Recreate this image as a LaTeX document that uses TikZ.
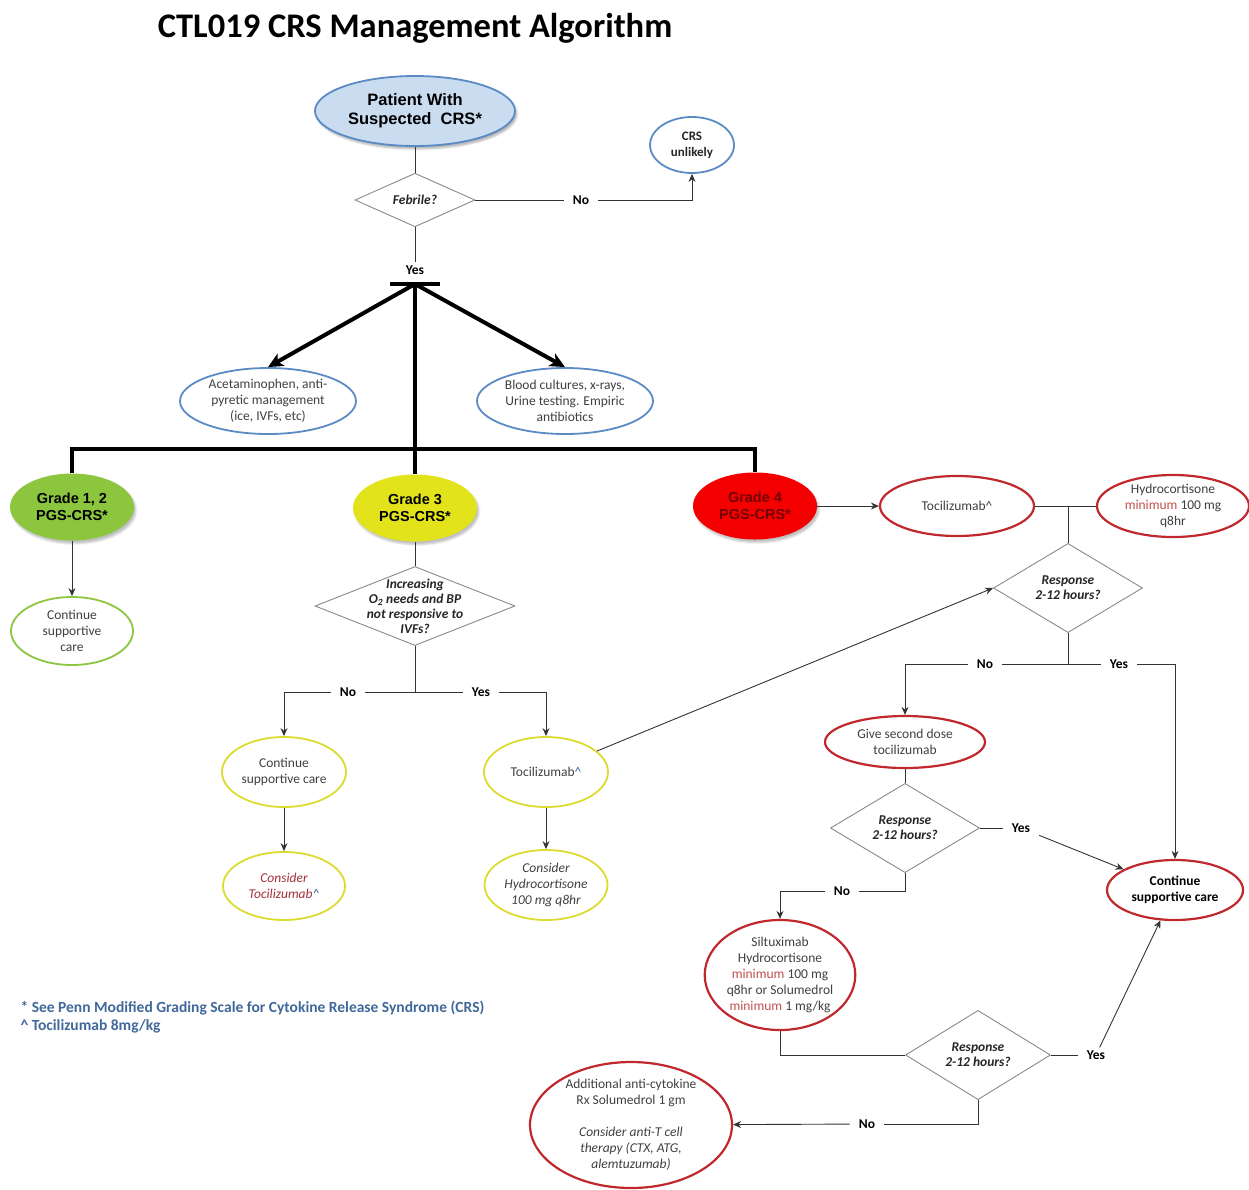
\documentclass[tikz,border=0pt]{standalone}
\usepackage{fontspec}
\setmainfont{Carlito}
\newfontfamily\arialfont{Liberation Sans}
\usetikzlibrary{shapes.geometric,arrows.meta,shadows.blur}

\definecolor{bordblue}{HTML}{5B8BC4}
\definecolor{fillblue}{HTML}{C9DCF0}
\definecolor{gradegreen}{HTML}{8CC63F}
\definecolor{gradeyellow}{HTML}{E3E31C}
\definecolor{bordyellow}{HTML}{DCDC30}
\definecolor{gradered}{HTML}{F40000}
\definecolor{bordred}{HTML}{C0282D}
\definecolor{txtgray}{HTML}{404040}
\definecolor{minred}{HTML}{C0504D}
\definecolor{tocired}{HTML}{A5303C}
\definecolor{noteblue}{HTML}{41689A}
\definecolor{linegray}{HTML}{8A8A8A}

\newcommand{\nodesize}{\fontsize{13.5}{16}\selectfont}
\newcommand{\mintxt}{\textcolor{minred}{minimum}}
\newcommand{\tcaret}{\textcolor{noteblue}{\textasciicircum}}

\begin{document}
\begin{tikzpicture}[x=1pt,y=-1pt,
	every node/.style={font=\nodesize, text=txtgray, align=center},
	oval/.style={ellipse, draw, line width=1.8pt, inner sep=0pt, fill=white},
	blueoval/.style={oval, draw=bordblue},
	greenoval/.style={oval, draw=gradegreen},
	yellowoval/.style={oval, draw=bordyellow},
	redoval/.style={oval, draw=bordred, line width=2.2pt},
	grade/.style={ellipse, inner sep=0pt, minimum width=124pt, minimum height=67pt,
		text=black, font=\arialfont\bfseries\fontsize{14.5}{17}\selectfont,
		blur shadow={shadow xshift=2pt, shadow yshift=-3pt, shadow opacity=25}},
	decision/.style={diamond, draw=linegray, line width=0.9pt, inner sep=0pt, fill=white,
		text=black!85, font=\bfseries\itshape\fontsize{13.5}{15}\selectfont},
	answer/.style={text=black, font=\bfseries\fontsize{13.5}{15}\selectfont,
		inner xsep=9pt, inner ysep=3pt},
	link/.style={draw=black!80, line width=0.9pt},
	arrow/.style={link, -{Stealth[length=8pt,width=7pt]}},
	heavy/.style={draw=black, line width=4pt},
	heavyarrow/.style={heavy, -{Stealth[length=15pt,width=14pt,inset=4pt]}},
]

% frame %{{{2

	\useasboundingbox (0,0) rectangle (1249,1189);

% title %{{{2

	\node[text=black, font=\bfseries\fontsize{34.5}{38}\selectfont] (title) at (415,28)
		{CTL019 CRS Management Algorithm};

% top of the tree %{{{2

	\node[oval, draw=bordblue, fill=fillblue, minimum width=200pt, minimum height=70pt,
		text=black, font=\arialfont\bfseries\fontsize{16.5}{19}\selectfont,
		blur shadow={shadow xshift=2pt, shadow yshift=-3pt, shadow opacity=30}]
		(patient) at (415,111) {Patient With\\Suspected\ \ CRS*};

	\node[decision, minimum width=120pt, minimum height=39pt] (febrile) at (415,200)
		{Febrile?};

	\node[blueoval, minimum width=84pt, minimum height=56pt, text=black!85,
		font=\bfseries\fontsize{13}{16}\selectfont] (unlikely) at (692,145) {CRS\\unlikely};

	% ---- answers of the first question

	\node[answer] (no1) at (581,200) {No};
	\node[answer] (yes1) at (415,270) {Yes};

	\coordinate (tbar) at (415,284);
	\coordinate (tbarL) at (390,284);
	\coordinate (tbarR) at (440,284);
	\coordinate (busR) at (755,449);

% first measures %{{{2

	\node[blueoval, minimum width=176pt, minimum height=66pt] (acet) at (268,401)
		{Acetaminophen, anti-\\pyretic management\\(ice, IVFs, etc)};
	\node[blueoval, minimum width=176pt, minimum height=66pt] (blood) at (565,401)
		{Blood cultures, x-rays,\\Urine testing. Empiric\\antibiotics};

% grades %{{{2

	\node[grade, fill=gradegreen] (grade12) at (72,507) {Grade 1, 2\\PGS-CRS*};
	\node[grade, fill=gradeyellow] (grade3) at (415,508) {Grade 3\\PGS-CRS*};
	\node[grade, fill=gradered, text=black!55!red] (grade4) at (755,506) {Grade 4\\PGS-CRS*};

% grade 1, 2 branch %{{{2

	\node[greenoval, minimum width=122pt, minimum height=68pt] (cont12) at (72,631)
		{Continue\\supportive\\care};

% grade 3 branch %{{{2

	% ---- the diamond and its text are two nodes

	\node[decision, minimum width=200pt, minimum height=79pt] (incr) at (415,606) {};
	\node[text=black!85, font=\bfseries\itshape\fontsize{13.5}{15}\selectfont]
		(incrtext) at (incr) {Increasing\\O\textsubscript{2} needs and BP\\not responsive to\\IVFs?};

	\coordinate (j3) at (415,692);
	\node[answer] (no3) at (348,692) {No};
	\node[answer] (yes3) at (481,692) {Yes};

	\node[yellowoval, minimum width=124pt, minimum height=70pt] (cont3) at (284,772)
		{Continue\\supportive care};
	\node[yellowoval, minimum width=124pt, minimum height=70pt] (toci3) at (546,772)
		{Tocilizumab\tcaret};
	\node[yellowoval, minimum width=122pt, minimum height=68pt, text=tocired,
		font=\nodesize\itshape] (ctoci) at (284,886) {Consider\\Tocilizumab\tcaret};
	\node[yellowoval, minimum width=123pt, minimum height=70pt,
		font=\nodesize\itshape] (chydro) at (546,885)
		{Consider\\Hydrocortisone\\100 mg q8hr};

% grade 4 branch %{{{2

	\node[redoval, minimum width=154pt, minimum height=60pt] (toci4) at (957,506)
		{Tocilizumab\textasciicircum};
	\node[redoval, minimum width=152pt, minimum height=62pt] (hydro) at (1173,506)
		{Hydrocortisone\\\mintxt{} 100 mg\\q8hr};

	\coordinate (j4) at (1068,506);
	\node[decision, minimum width=149pt, minimum height=57pt] (resp1) at (1068,588)
		{Response\\2-12 hours?};

	\coordinate (j5) at (1068,664);
	\node[answer] (no4) at (985,664) {No};
	\node[answer] (yes4) at (1119,664) {Yes};

	\node[redoval, minimum width=160pt, minimum height=52pt] (second) at (905,742)
		{Give second dose\\tocilizumab};
	\node[decision, minimum width=149pt, minimum height=56pt] (resp2) at (905,828)
		{Response\\2-12 hours?};
	\node[answer] (yes5) at (1021,828) {Yes};
	\node[answer] (no5) at (842,891) {No};

	\node[redoval, minimum width=136pt, minimum height=60pt, text=black,
		font=\bfseries\fontsize{13.5}{16}\selectfont] (cont4) at (1175,890)
		{Continue\\supportive care};

	\node[redoval, minimum width=148pt, minimum height=110pt] (silt) at (780,975)
		{Siltuximab\\Hydrocortisone\\\mintxt{} 100 mg\\q8hr or Solumedrol\\\mintxt{} 1 mg/kg};
	\node[decision, minimum width=145pt, minimum height=59pt] (resp3) at (978,1055)
		{Response\\2-12 hours?};
	\node[answer] (yes6) at (1096,1055) {Yes};
	\node[answer] (no6) at (867,1124) {No};

	\node[redoval, minimum width=202pt, minimum height=126pt, inner ysep=-3pt] (addl) at (631,1125)
		{Additional anti-cytokine\\Rx Solumedrol 1 gm\\[16pt]\textit{Consider anti-T cell}\\
		\textit{therapy (CTX, ATG,}\\\textit{alemtuzumab)}};

% footnotes %{{{2

	\node[anchor=west, align=left, text=noteblue,
		font=\bfseries\fontsize{15.5}{18}\selectfont] (notes) at (17,1017)
		{* See Penn Modified Grading Scale for Cytokine Release Syndrome (CRS)\\
		\textasciicircum{} Tocilizumab 8mg/kg};

% connectors %{{{2

	\draw[link] (patient) -- (febrile);
	\draw[link] (febrile) -- (no1);
	\draw[arrow] (no1) -| (unlikely);
	\draw[link] (febrile) -- (yes1);

	% ---- heavy tree

	\draw[heavy] (tbarL) -- (tbarR);
	\draw[heavyarrow] (tbar) -- (acet.north);
	\draw[heavyarrow] (tbar) -- (blood.north);
	\draw[heavy] (tbar) -- (grade3);
	\draw[heavy] (grade12) |- (busR) -- (grade4);

	% ---- grade 1, 2

	\draw[arrow] (grade12) -- (cont12);

	% ---- grade 3

	\draw[link] (grade3) -- (incr);
	\draw[link] (incr) -- (j3) -- (no3);
	\draw[link] (j3) -- (yes3);
	\draw[arrow] (no3) -| (cont3);
	\draw[arrow] (yes3) -| (toci3);
	\draw[arrow] (cont3) -- (ctoci);
	\draw[arrow] (toci3) -- (chydro);
	\draw[arrow] (toci3) -- (resp1.west);

	% ---- grade 4

	\draw[arrow] (grade4) -- (toci4);
	\draw[link] (toci4) -- (hydro);
	\draw[link] (j4) -- (resp1);
	\draw[link] (resp1) -- (j5) -- (no4);
	\draw[link] (j5) -- (yes4);
	\draw[arrow] (no4) -| (second);
	\draw[arrow] (yes4) -| (cont4);

	\draw[link] (second) -- (resp2);
	\draw[link] (resp2) -- (yes5);
	\draw[arrow] (yes5) -- (cont4);
	\draw[link] (resp2) |- (no5);
	\draw[arrow] (no5) -| (silt);

	\draw[link] (silt) |- (resp3);
	\draw[link] (resp3) -- (yes6);
	\draw[arrow] (yes6) -- (cont4);
	\draw[link] (resp3) |- (no6);
	\draw[arrow] (no6) -- (addl);

% closing %{{{2

\end{tikzpicture}
\end{document}
